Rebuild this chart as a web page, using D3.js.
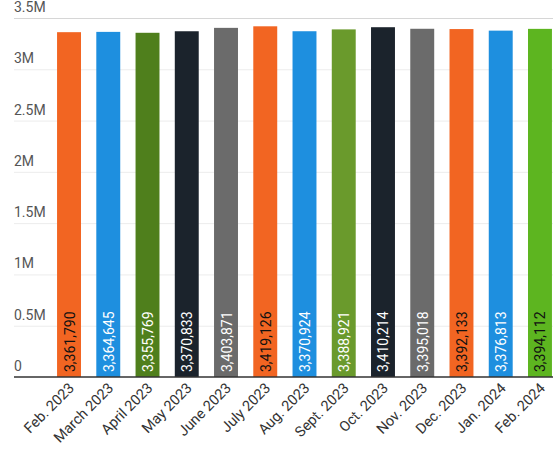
<!DOCTYPE html>
<html><head><meta charset="utf-8">
<script src="https://cdn.jsdelivr.net/npm/d3@7"></script>
<style>body{margin:0;background:#fff;}svg{display:block;font-family:Roboto,"Noto Sans",sans-serif;}</style>
</head><body><svg id="c" width="559" height="450"></svg>
<script>
const categories = ["Feb. 2023","March 2023","April 2023","May 2023","June 2023","July 2023","Aug. 2023","Sept. 2023","Oct. 2023","Nov. 2023","Dec. 2023","Jan. 2024","Feb. 2024"];
const values = [3361790,3364645,3355769,3370833,3403871,3419126,3370924,3388921,3410214,3395018,3392133,3376813,3394112];
const colors = ["#f26522","#1e8fdf","#4f7f1c","#1b232c","#6b6b6b","#f26522","#1e8fdf","#6a9a2c","#1b232c","#6b6b6b","#f26522","#1e8fdf","#5db520"];
const labelColors = ["#111","#fff","#fff","#fff","#fff","#111","#fff","#fff","#fff","#fff","#111","#fff","#111"];
const yTicks = [0,500000,1000000,1500000,2000000,2500000,3000000,3500000];
const yTickLabels = ["0","0.5M","1M","1.5M","2M","2.5M","3M","3.5M"];

const svg = d3.select("#c");
const y = d3.scaleLinear().domain([0,3500000]).range([377,18]);
const x = d3.scaleBand().domain(categories).range([49.4,559.6]).paddingInner(0.39).paddingOuter(0.195);

// gridlines
svg.append("g").selectAll("line").data(yTicks.slice(1)).join("line")
  .attr("x1",14).attr("x2",553).attr("y1",d=>y(d)+0.5).attr("y2",d=>y(d)+0.5)
  .attr("stroke",(d,i)=>i===yTicks.length-2?"#d6d6d6":"#ececec").attr("stroke-width",1);

// y labels
svg.append("g").selectAll("text").data(yTicks).join("text")
  .attr("x",14).attr("y",d=>y(d)-6)
  .attr("font-size",14).attr("fill","#555")
  .text((d,i)=>yTickLabels[i]);

// bars
svg.append("g").selectAll("rect").data(values).join("rect")
  .attr("x",(d,i)=>x(categories[i])).attr("width",x.bandwidth())
  .attr("y",d=>y(d)).attr("height",d=>y(0)-y(d))
  .attr("fill",(d,i)=>colors[i]);

// value labels
const fmt = d3.format(",");
svg.append("g").selectAll("text").data(values).join("text")
  .attr("transform",(d,i)=>`translate(${x(categories[i])+x.bandwidth()/2+5.5},${y(0)-5}) rotate(-90)`)
  .attr("font-size",14).attr("fill",(d,i)=>labelColors[i])
  .text(d=>fmt(d));

// axis line
svg.append("line").attr("x1",14).attr("x2",553).attr("y1",377).attr("y2",377)
  .attr("stroke","#333").attr("stroke-width",1.5);

// x labels
svg.append("g").selectAll("text").data(categories).join("text")
  .attr("transform",d=>`translate(${x(d)+x.bandwidth()/2+6},${389}) rotate(-45)`)
  .attr("text-anchor","end").attr("font-size",14.5).attr("fill","#333")
  .text(d=>d);
</script></body></html>
